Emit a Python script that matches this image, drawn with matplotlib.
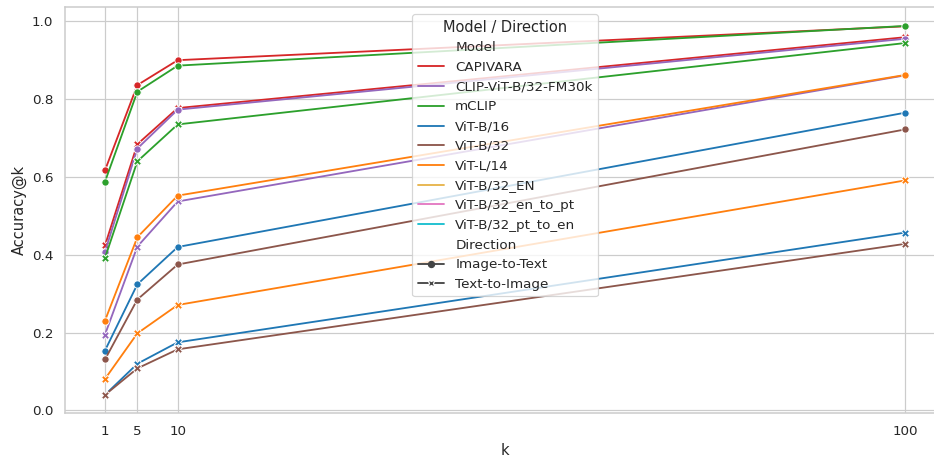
import numpy as np
import pandas as pd
import matplotlib
matplotlib.use("Agg")
import matplotlib.pyplot as plt
from matplotlib.lines import Line2D
import seaborn as sns

# k values and recall numbers
k_values = [1, 5, 10, 100]

models = ["CAPIVARA", "CLIP-ViT-B/32-FM30k", "mCLIP", "ViT-B/16", "ViT-B/32", "ViT-L/14",
          "ViT-B/32_EN", "ViT-B/32_en_to_pt", "ViT-B/32_pt_to_en"]
colors = ["#d62728", "#9467bd", "#2ca02c", "#1f77b4", "#8c564b", "#ff7f0e",
          "#e6b34a", "#e377c2", "#17becf"]

# Image-to-Text
i2t = {
    "CAPIVARA": [0.617, 0.836, 0.900, 0.987],
    "CLIP-ViT-B/32-FM30k": [0.408, 0.673, 0.773, 0.955],
    "mCLIP": [0.588, 0.819, 0.886, 0.988],
    "ViT-B/16": [0.154, 0.324, 0.420, 0.765],
    "ViT-B/32": [0.131, 0.285, 0.375, 0.722],
    "ViT-L/14": [0.231, 0.445, 0.552, 0.862],
}
# Text-to-Image
t2i = {
    "CAPIVARA": [0.424, 0.684, 0.777, 0.959],
    "CLIP-ViT-B/32-FM30k": [0.195, 0.421, 0.537, 0.861],
    "mCLIP": [0.392, 0.640, 0.735, 0.944],
    "ViT-B/16": [0.040, 0.120, 0.175, 0.457],
    "ViT-B/32": [0.040, 0.108, 0.157, 0.428],
    "ViT-L/14": [0.081, 0.198, 0.271, 0.591],
}

rows = []
for name, vals in i2t.items():
    for k, v in zip(k_values, vals):
        rows.append((name, "Image-to-Text", k, v))
for name, vals in t2i.items():
    for k, v in zip(k_values, vals):
        rows.append((name, "Text-to-Image", k, v))
df = pd.DataFrame(rows, columns=["Model", "Direction", "k", "Accuracy@k"])

sns.set_theme(style="whitegrid", context="notebook")
palette = dict(zip(models, colors))

# original looks rendered bigger and scaled down, so use a lower dpi
dpi = 88
fig = plt.figure(figsize=(934 / dpi, 457 / dpi), dpi=dpi)
ax = fig.add_axes([0.0696, 0.0956, 0.9422, 0.888])
sns.lineplot(data=df, x="k", y="Accuracy@k", hue="Model", style="Direction",
             markers=["o", "X"], dashes=False, palette=palette,
             hue_order=[m for m in models if m in i2t], ax=ax, legend=False)

ax.set_xticks(k_values)
ax.set_xticklabels([str(k) for k in k_values])

# build legend by hand (includes models without data)
blank = Line2D([], [], linestyle="none", marker="none")
handles = [blank] + [Line2D([], [], color=c, lw=1.5) for c in colors]
labels = ["Model"] + models
handles += [blank,
            Line2D([], [], color="#444444", marker="o", lw=1.5, markersize=5),
            Line2D([], [], color="#444444", marker="X", lw=1.5, markersize=5,
                   markeredgecolor="white")]
labels += ["Direction", "Image-to-Text", "Text-to-Image"]
ax.legend(handles, labels, title="Model / Direction", loc="upper center")

fig.savefig("out.png", dpi=dpi)
